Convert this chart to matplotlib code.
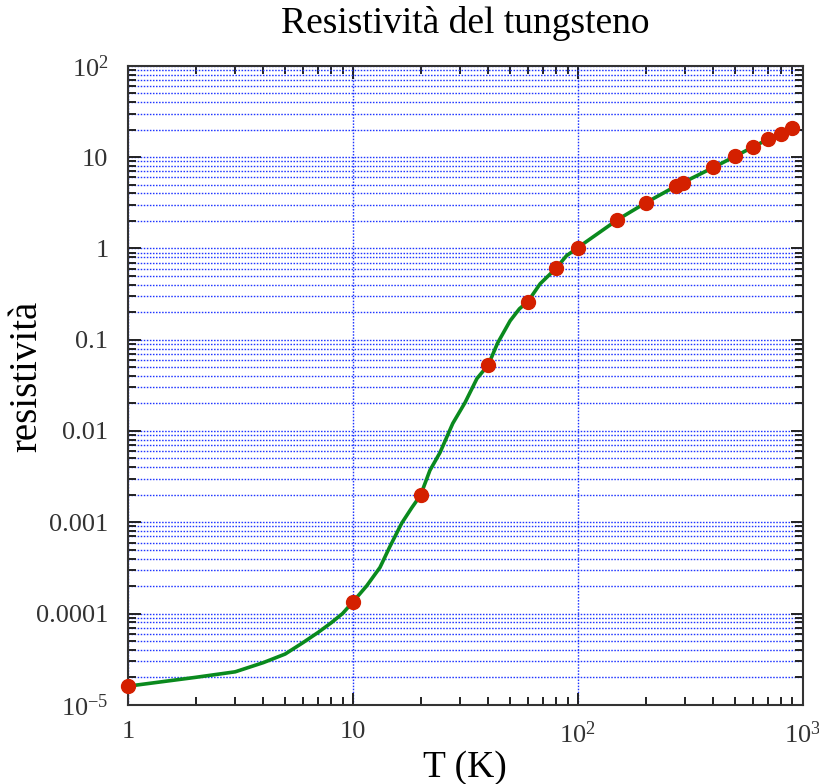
import numpy as np
import matplotlib
matplotlib.use("Agg")
import matplotlib.pyplot as plt
from matplotlib.ticker import LogLocator, FixedLocator, FixedFormatter, NullFormatter

# measured points (T in K, resistivity)
T_pts = [1, 10, 20, 40, 60, 80, 100, 150, 200, 273, 293, 400, 500, 600, 700, 800, 900]
rho_pts = [1.6e-5, 1.34e-4, 0.00198, 0.053, 0.262, 0.605, 1.02, 2.06, 3.15,
           4.82, 5.25, 7.7, 10.2, 12.9, 15.7, 18.0, 20.8]

# green curve
T_curve = [1, 2, 3, 4, 5, 6, 7, 8, 9, 10, 11.5, 13.2, 14.6, 16.5, 18.3, 20, 22,
           24.4, 27.8, 31.5, 35.6, 40, 44, 50, 55, 60, 68, 80, 89, 100, 150, 200,
           273, 293, 400, 500, 600, 700, 800, 900]
rho_curve = [1.6e-5, 2.0e-5, 2.3e-5, 2.9e-5, 3.6e-5, 4.8e-5, 6.2e-5, 7.9e-5, 1.0e-4,
             1.34e-4, 2.0e-4, 3.2e-4, 5.4e-4, 9.8e-4, 1.45e-3, 1.98e-3, 3.7e-3,
             5.8e-3, 0.0121, 0.0204, 0.0375, 0.053, 0.092, 0.161, 0.218, 0.262,
             0.41, 0.605, 0.83, 1.02, 2.06, 3.15, 4.82, 5.25, 7.7, 10.2, 12.9,
             15.7, 18.0, 20.8]

y_ticks = [1e-5, 1e-4, 1e-3, 1e-2, 1e-1, 1, 10, 100]
y_labels = [r'$\mathregular{10^{-5}}$', '0.0001', '0.001', '0.01', '0.1', '1', '10',
            r'$\mathregular{10^{2}}$']
x_ticks = [1, 10, 100, 1000]
x_labels = ['1', '10', r'$\mathregular{10^{2}}$', r'$\mathregular{10^{3}}$']

plt.rcParams['font.family'] = ['Liberation Serif', 'DejaVu Serif']
plt.rcParams['mathtext.fontset'] = 'stix'

fig = plt.figure(figsize=(8.2, 7.84), dpi=100)
ax = fig.add_axes([0.156, 0.101, 0.823, 0.815])

ax.set_xscale('log')
ax.set_yscale('log')
ax.set_xlim(1, 1000)
ax.set_ylim(1e-5, 100)

gcol = '#1f35ff'
gstyle = (0, (1.1, 1.1))
ax.grid(True, which='both', axis='y', color=gcol, lw=1.0, linestyle=gstyle)
ax.grid(True, which='major', axis='x', color=gcol, lw=1.0, linestyle=gstyle)
ax.set_axisbelow(True)

ax.plot(T_curve, rho_curve, color='#0a8a1e', lw=2.6, zorder=3)
ax.plot(T_pts, rho_pts, 'o', color='#d42000', ms=10, mec='#d42000', zorder=4,
        clip_on=False)

ax.xaxis.set_major_locator(FixedLocator(x_ticks))
ax.xaxis.set_major_formatter(FixedFormatter(x_labels))
ax.xaxis.set_minor_locator(LogLocator(base=10, subs=np.arange(2, 10), numticks=20))
ax.xaxis.set_minor_formatter(NullFormatter())
ax.yaxis.set_major_locator(FixedLocator(y_ticks))
ax.yaxis.set_major_formatter(FixedFormatter(y_labels))
ax.yaxis.set_minor_locator(LogLocator(base=10, subs=np.arange(2, 10), numticks=20))
ax.yaxis.set_minor_formatter(NullFormatter())

ax.tick_params(which='both', direction='in', top=True, right=True, color='#222222',
               width=1.4)
ax.tick_params(which='major', length=9, labelsize=19, pad=12, labelcolor='#333333')
ax.tick_params(which='minor', length=5.5)
ax.tick_params(axis='y', which='major', pad=14)
for s in ax.spines.values():
    s.set_linewidth(1.5)
    s.set_color('#333333')

ax.set_title('Resistività del tungsteno', fontsize=27, pad=24)
ax.set_xlabel('T (K)', fontsize=27, labelpad=2)
fig.text(27 / 820, 1 - 376 / 784, 'resistività', fontsize=28, rotation=90,
         ha='center', va='center')

fig.savefig('out.png', dpi=100)
